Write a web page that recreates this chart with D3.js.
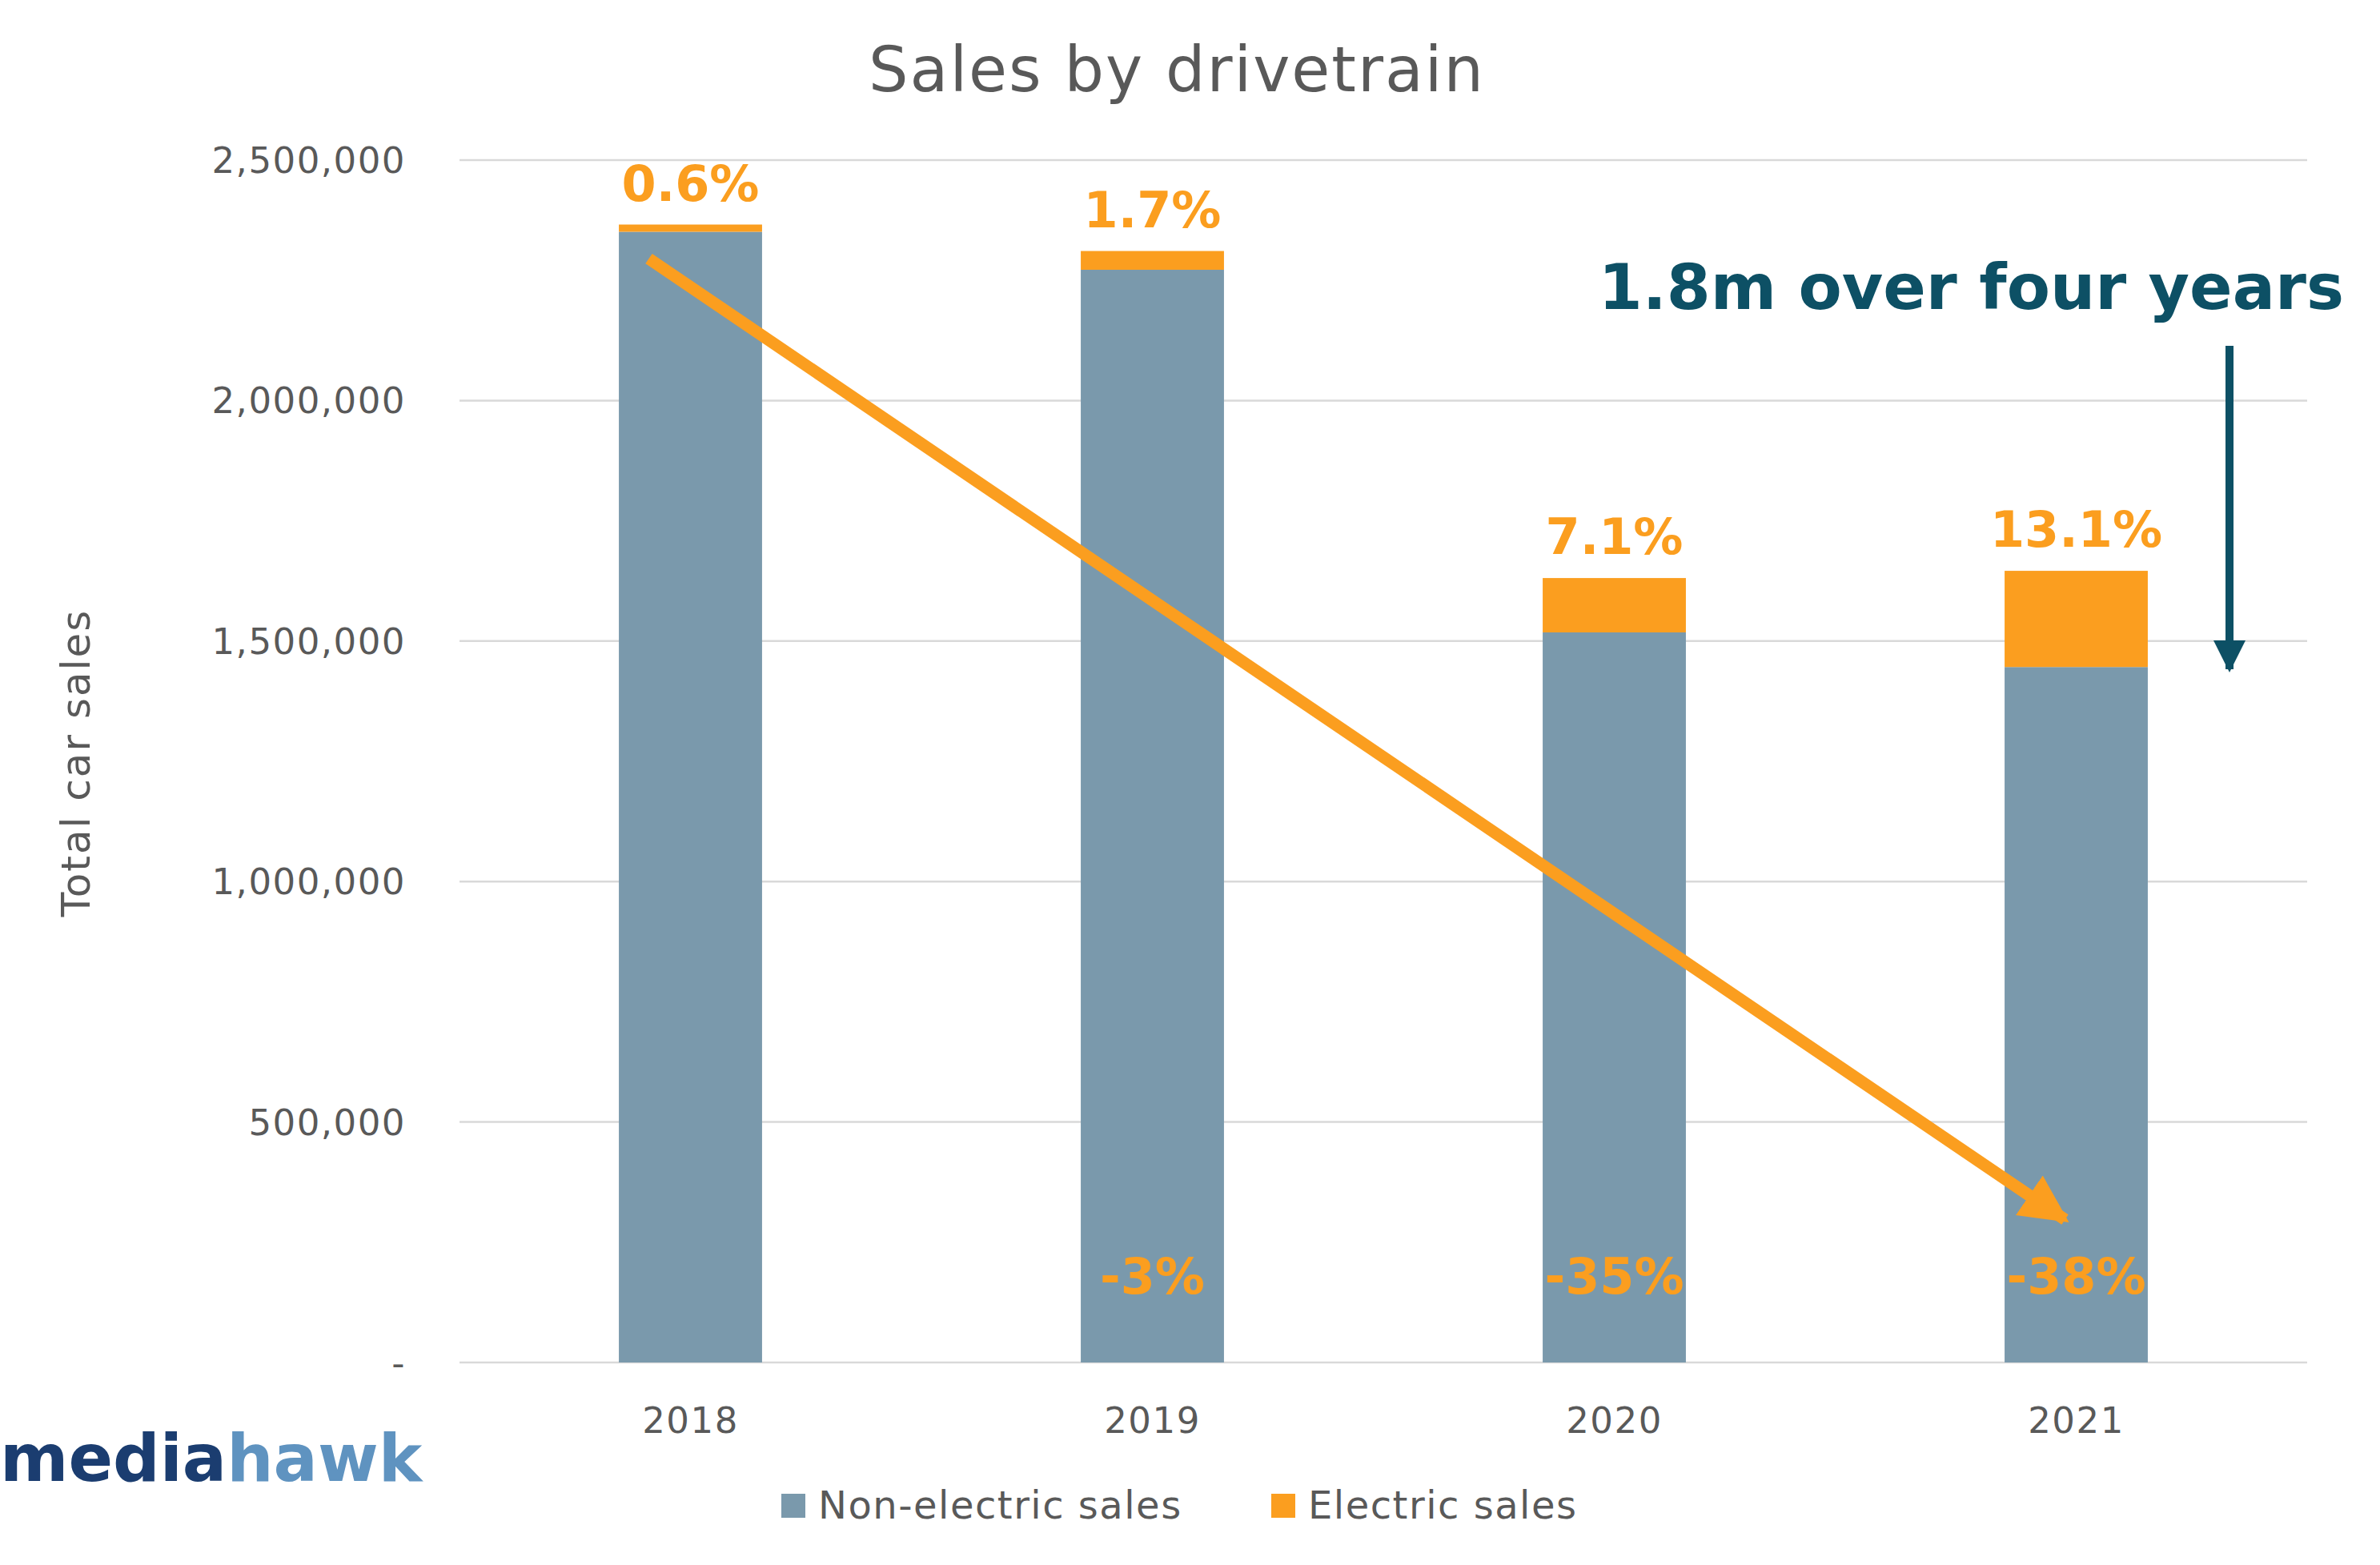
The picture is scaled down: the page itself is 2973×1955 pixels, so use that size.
<!DOCTYPE html>
<html><head><meta charset="utf-8">
<script src="https://cdn.jsdelivr.net/npm/d3@7"></script>
<style>body{margin:0;background:#fff}text{font-family:"DejaVu Sans",sans-serif}</style>
</head><body><svg id="c" width="2973" height="1955"></svg>
<script>
const years = ["2018", "2019", "2020", "2021"];
const nonElectric = [2351000, 2272000, 1518000, 1446000];
const electric = [15000, 39000, 113000, 200000];
const shareLabels = ["0.6%", "1.7%", "7.1%", "13.1%"];
const changeLabels = ["", "-3%", "-35%", "-38%"];
const yTicks = [0, 500000, 1000000, 1500000, 2000000, 2500000];

const svg = d3.select("#c");
const m = {left: 574, right: 2882, top: 200, bottom: 1702};
const orange = "#fb9e1f", grey = "#7a99ac", teal = "#0d5065";

const x = d3.scaleBand().domain(years).range([m.left, m.right]).paddingInner(0.69).paddingOuter(0.345);
const y = d3.scaleLinear().domain([0, 2500000]).range([m.bottom, m.top]);

// grid
svg.selectAll(".grid").data(yTicks).enter().append("line")
  .attr("x1", m.left).attr("x2", m.right)
  .attr("y1", d => y(d)).attr("y2", d => y(d))
  .attr("stroke", "#d9d9d9").attr("stroke-width", 2.5);

svg.selectAll(".yt").data(yTicks).enter().append("text")
  .attr("x", 507).attr("y", d => y(d) + 16)
  .attr("text-anchor", "end").attr("font-size", 45).attr("letter-spacing", 1.5).attr("fill", "#595959")
  .text(d => d === 0 ? "-" : d3.format(",")(d));

svg.append("text").attr("transform", "translate(112,953) rotate(-90)")
  .attr("text-anchor", "middle").attr("font-size", 50).attr("letter-spacing", 2).attr("fill", "#595959")
  .text("Total car sales");

svg.append("text").attr("x", 1470).attr("y", 114).attr("text-anchor", "middle")
  .attr("font-size", 78).attr("letter-spacing", 2).attr("fill", "#595959").text("Sales by drivetrain");

// bars
svg.selectAll(".ne").data(years).enter().append("rect")
  .attr("x", d => x(d)).attr("width", x.bandwidth())
  .attr("y", (d, i) => y(nonElectric[i])).attr("height", (d, i) => y(0) - y(nonElectric[i]))
  .attr("fill", grey);
svg.selectAll(".el").data(years).enter().append("rect")
  .attr("x", d => x(d)).attr("width", x.bandwidth())
  .attr("y", (d, i) => y(nonElectric[i] + electric[i])).attr("height", (d, i) => y(0) - y(electric[i]))
  .attr("fill", orange);

svg.selectAll(".sl").data(years).enter().append("text")
  .attr("x", d => x(d) + x.bandwidth() / 2)
  .attr("y", (d, i) => y(nonElectric[i] + electric[i]) - 30)
  .attr("text-anchor", "middle").attr("font-size", 62).attr("font-weight", 700).attr("fill", orange)
  .text((d, i) => shareLabels[i]);
svg.selectAll(".cl").data(years).enter().append("text")
  .attr("x", d => x(d) + x.bandwidth() / 2).attr("y", 1616)
  .attr("text-anchor", "middle").attr("font-size", 62).attr("font-weight", 700).attr("fill", orange)
  .text((d, i) => changeLabels[i]);

svg.selectAll(".xt").data(years).enter().append("text")
  .attr("x", d => x(d) + x.bandwidth() / 2).attr("y", 1790)
  .attr("text-anchor", "middle").attr("font-size", 45).attr("letter-spacing", 1.5).attr("fill", "#595959").text(d => d);

// arrows
const defs = svg.append("defs");
defs.append("marker").attr("id", "ao").attr("viewBox", "0 0 10 10").attr("refX", 9).attr("refY", 5)
  .attr("markerWidth", 4).attr("markerHeight", 4).attr("orient", "auto")
  .append("path").attr("d", "M0,0L10,5L0,10z").attr("fill", orange);
defs.append("marker").attr("id", "at").attr("viewBox", "0 0 10 10").attr("refX", 9).attr("refY", 5)
  .attr("markerWidth", 4).attr("markerHeight", 4.5).attr("orient", "auto")
  .append("path").attr("d", "M0,0L10,5L0,10z").attr("fill", teal);

const cx = d => x(d) + x.bandwidth() / 2;
svg.append("line")
  .attr("x1", cx("2018") - 52).attr("y1", y(2295000))
  .attr("x2", cx("2021") - 14).attr("y2", y(297000))
  .attr("stroke", orange).attr("stroke-width", 15).attr("marker-end", "url(#ao)");

svg.append("line").attr("x1", 2785).attr("x2", 2785).attr("y1", 432).attr("y2", 836)
  .attr("stroke", teal).attr("stroke-width", 10).attr("marker-end", "url(#at)");
svg.append("text").attr("x", 2928).attr("y", 386).attr("text-anchor", "end")
  .attr("font-size", 79).attr("font-weight", 700).attr("fill", teal).text("1.8m over four years");

// legend
const legend = [{label: "Non-electric sales", color: grey, x: 976}, {label: "Electric sales", color: orange, x: 1588}];
const lg = svg.selectAll(".lg").data(legend).enter().append("g");
lg.append("rect").attr("x", d => d.x).attr("y", 1866).attr("width", 30).attr("height", 30).attr("fill", d => d.color);
lg.append("text").attr("x", d => d.x + 46).attr("y", 1897).attr("font-size", 48).attr("letter-spacing", 1.5).attr("fill", "#595959").text(d => d.label);

// logo
const logo = svg.append("text").attr("x", 0).attr("y", 1850).attr("font-size", 82).attr("font-weight", 700);
logo.append("tspan").attr("fill", "#1b3d70").text("media");
logo.append("tspan").attr("fill", "#5f93c0").text("hawk");
</script></body></html>
